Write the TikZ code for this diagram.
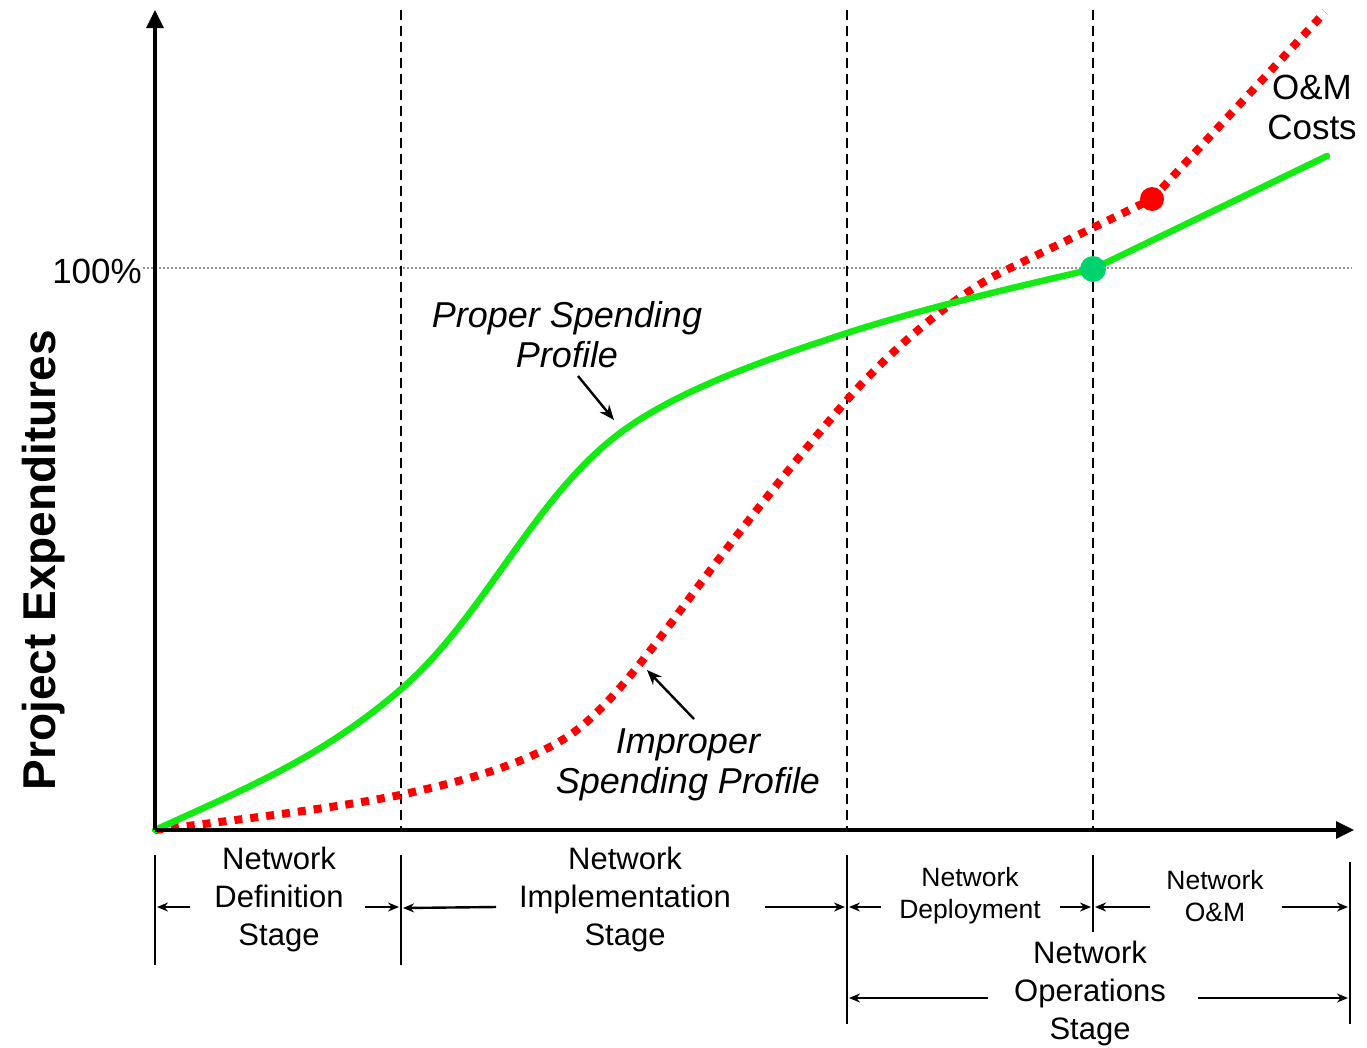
\documentclass[tikz,border=0pt]{standalone}
\usepackage{fontspec}
\setmainfont{Liberation Sans}
\usetikzlibrary{arrows.meta}
\definecolor{curvegreen}{RGB}{20,235,20}
\definecolor{dotgreen}{RGB}{0,210,110}
\definecolor{refgray}{RGB}{150,150,150}
\begin{document}
\begin{tikzpicture}[x=1pt,y=-1pt,
  axis/.style={line width=3.2pt,-{Triangle[length=18pt,width=17pt]}},
  stagediv/.style={line width=2.8pt,dash pattern=on 10pt off 6pt},
  tickline/.style={line width=2.6pt},
  dim/.style={line width=2.4pt,-{Stealth[length=11pt,width=9pt]}},
  pointer/.style={line width=2.4pt,-{Stealth[length=15pt,width=12pt]}},
  proper/.style={line width=6.5pt,color=curvegreen,line cap=round},
  improper/.style={line width=8pt,color=red,dash pattern=on 8pt off 8pt},
  lbl/.style={inner sep=0pt,align=center},
  bigtxt/.style={font=\fontsize{31}{38}\selectfont},
  smalltxt/.style={font=\fontsize{26.5}{32}\selectfont},
  curvetxt/.style={font=\itshape\fontsize{36}{40}\selectfont}]
\useasboundingbox (0,0) rectangle (1367,1047);

% reference 100% line
\coordinate (hA) at (143,268);
\coordinate (hB) at (1352,268);
\draw[refgray,line width=1.8pt,dash pattern=on 2pt off 2pt] (hA) -- (hB);

% stage dividers
\foreach \n/\x in {d1/401,d2/847,d3/1093}{
  \coordinate (\n top) at (\x,10);
  \coordinate (\n bot) at (\x,830);
  \draw[stagediv] (\n top) -- (\n bot);
}

% curves
\coordinate (O) at (155,830);
\coordinate (rdot) at (1152,199);
\coordinate (rend) at (1325,12);
\coordinate (gdot) at (1093,269);
\coordinate (gend) at (1327,156);

\draw[improper] (O) .. controls (235,820) and (330,809) .. (400,795)
  .. controls (455,783) and (520,767) .. (567,737)
  .. controls (612,708) and (663,633) .. (703,580)
  .. controls (748,520) and (802,452) .. (847,400)
  .. controls (887,354) and (950,298) .. (1000,273)
  -- (rdot) -- (rend);

\draw[proper] (O) .. controls (240,791) and (320,759) .. (400,690)
  .. controls (484,618) and (532,499) .. (620,433)
  .. controls (680,388) and (777,356) .. (847,333)
  .. controls (927,307) and (1033,283) .. (gdot)
  -- (gend);

\fill[dotgreen] (gdot) circle (13pt);
\fill[red] (rdot) circle (12pt);

% axes
\coordinate (ytop) at (155,10);
\coordinate (xend) at (1354,830);
\draw[axis] (O) -- (ytop);
\draw[axis] (O) -- (xend);

% axis labels
\node[lbl,anchor=base east,font=\fontsize{35}{40}\selectfont] (pct) at (142,283) {100\%};
\node[lbl,anchor=base,rotate=90,font=\bfseries\fontsize{46}{50}\selectfont] (ylab) at (55,560) {Project Expenditures};

% curve labels
\node[lbl,curvetxt] (proplbl) at (567,335) {Proper Spending\\Profile};
\node[lbl,curvetxt] (improplbl) at (688,765) {Improper\\Spending Profile};
\node[lbl,font=\fontsize{35}{40}\selectfont] (omc) at (1312,107) {O\&M\\Costs};

\coordinate (pa1) at (578,376);
\coordinate (pa2) at (614,420);
\draw[pointer] (pa1) -- (pa2);
\coordinate (ia1) at (694,719);
\coordinate (ia2) at (647,670);
\draw[pointer] (ia1) -- (ia2);

% bottom stage ticks
\coordinate (t1a) at (155,855);  \coordinate (t1b) at (155,965);
\coordinate (t2a) at (401,855);  \coordinate (t2b) at (401,965);
\coordinate (t3a) at (847,855);  \coordinate (t3b) at (847,1024);
\coordinate (t4a) at (1093,855); \coordinate (t4b) at (1093,932);
\coordinate (t5a) at (1350,862); \coordinate (t5b) at (1350,1024);
\foreach \t in {t1,t2,t3,t4,t5}{\draw[tickline] (\t a) -- (\t b);}

% stage labels
\node[lbl,bigtxt] (defs) at (279,899) {Network\\Definition\\Stage};
\node[lbl,bigtxt] (imps) at (625,899) {Network\\Implementation\\Stage};
\node[lbl,smalltxt] (deps) at (970,896) {Network\\Deployment};
\node[lbl,smalltxt] (oms) at (1215,896) {Network\\O\&M};
\node[lbl,bigtxt] (ops) at (1090,993) {Network\\Operations\\Stage};

% dimension arrows
\coordinate (a1s) at (190,907);  \coordinate (a1e) at (157,907);
\coordinate (a2s) at (365,907);  \coordinate (a2e) at (399,907);
\coordinate (a3s) at (496,907);  \coordinate (a3e) at (403,908);
\coordinate (a4s) at (765,907);  \coordinate (a4e) at (845,907);
\coordinate (a5s) at (881,907);  \coordinate (a5e) at (849,907);
\coordinate (a6s) at (1060,907); \coordinate (a6e) at (1091,907);
\coordinate (a7s) at (1150,907); \coordinate (a7e) at (1095,907);
\coordinate (a8s) at (1282,907); \coordinate (a8e) at (1348,907);
\coordinate (a9s) at (988,998);  \coordinate (a9e) at (849,998);
\coordinate (a10s) at (1198,998); \coordinate (a10e) at (1348,998);
\foreach \a in {a1,a2,a3,a4,a5,a6,a7,a8,a9,a10}{\draw[dim] (\a s) -- (\a e);}
\end{tikzpicture}
\end{document}
